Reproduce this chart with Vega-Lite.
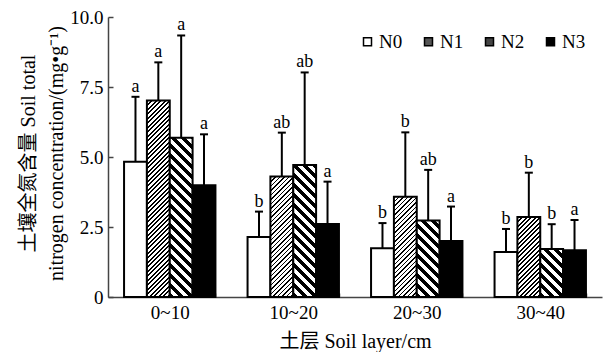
{
  "$schema": "https://vega.github.io/schema/vega-lite/v6.json",
  "width": 494,
  "height": 280,
  "autosize": {"type": "none"},
  "padding": {"left": 108, "top": 17, "right": 11, "bottom": 55},
  "background": "white",
  "config": {
    "view": {"stroke": null},
    "font": "Liberation Serif",
    "axis": {
      "labelFont": "Liberation Serif",
      "titleFont": "Liberation Serif, Noto Sans CJK SC",
      "labelColor": "black",
      "titleColor": "black",
      "titleFontWeight": "normal",
      "domainColor": "#444",
      "domainWidth": 1.5,
      "tickColor": "#444",
      "tickWidth": 1.5,
      "grid": false
    },
    "legend": {"labelFont": "Liberation Serif", "labelFontWeight": "normal"}
  },
  "params": [
    {"name": "hatchA", "value": [
      {"offset":0,"color":"#000"},{"offset":0.008,"color":"#000"},{"offset":0.008,"color":"#fff"},{"offset":0.02,"color":"#fff"},
      {"offset":0.02,"color":"#000"},{"offset":0.028,"color":"#000"},{"offset":0.028,"color":"#fff"},{"offset":0.04,"color":"#fff"},
      {"offset":0.04,"color":"#000"},{"offset":0.048,"color":"#000"},{"offset":0.048,"color":"#fff"},{"offset":0.06,"color":"#fff"},
      {"offset":0.06,"color":"#000"},{"offset":0.068,"color":"#000"},{"offset":0.068,"color":"#fff"},{"offset":0.08,"color":"#fff"},
      {"offset":0.08,"color":"#000"},{"offset":0.088,"color":"#000"},{"offset":0.088,"color":"#fff"},{"offset":0.1,"color":"#fff"},
      {"offset":0.1,"color":"#000"},{"offset":0.108,"color":"#000"},{"offset":0.108,"color":"#fff"},{"offset":0.12,"color":"#fff"},
      {"offset":0.12,"color":"#000"},{"offset":0.128,"color":"#000"},{"offset":0.128,"color":"#fff"},{"offset":0.14,"color":"#fff"},
      {"offset":0.14,"color":"#000"},{"offset":0.148,"color":"#000"},{"offset":0.148,"color":"#fff"},{"offset":0.16,"color":"#fff"},
      {"offset":0.16,"color":"#000"},{"offset":0.168,"color":"#000"},{"offset":0.168,"color":"#fff"},{"offset":0.18,"color":"#fff"},
      {"offset":0.18,"color":"#000"},{"offset":0.188,"color":"#000"},{"offset":0.188,"color":"#fff"},{"offset":0.2,"color":"#fff"},
      {"offset":0.2,"color":"#000"},{"offset":0.208,"color":"#000"},{"offset":0.208,"color":"#fff"},{"offset":0.22,"color":"#fff"},
      {"offset":0.22,"color":"#000"},{"offset":0.228,"color":"#000"},{"offset":0.228,"color":"#fff"},{"offset":0.24,"color":"#fff"},
      {"offset":0.24,"color":"#000"},{"offset":0.248,"color":"#000"},{"offset":0.248,"color":"#fff"},{"offset":0.26,"color":"#fff"},
      {"offset":0.26,"color":"#000"},{"offset":0.268,"color":"#000"},{"offset":0.268,"color":"#fff"},{"offset":0.28,"color":"#fff"},
      {"offset":0.28,"color":"#000"},{"offset":0.288,"color":"#000"},{"offset":0.288,"color":"#fff"},{"offset":0.3,"color":"#fff"},
      {"offset":0.3,"color":"#000"},{"offset":0.308,"color":"#000"},{"offset":0.308,"color":"#fff"},{"offset":0.32,"color":"#fff"},
      {"offset":0.32,"color":"#000"},{"offset":0.328,"color":"#000"},{"offset":0.328,"color":"#fff"},{"offset":0.34,"color":"#fff"},
      {"offset":0.34,"color":"#000"},{"offset":0.348,"color":"#000"},{"offset":0.348,"color":"#fff"},{"offset":0.36,"color":"#fff"},
      {"offset":0.36,"color":"#000"},{"offset":0.368,"color":"#000"},{"offset":0.368,"color":"#fff"},{"offset":0.38,"color":"#fff"},
      {"offset":0.38,"color":"#000"},{"offset":0.388,"color":"#000"},{"offset":0.388,"color":"#fff"},{"offset":0.4,"color":"#fff"},
      {"offset":0.4,"color":"#000"},{"offset":0.408,"color":"#000"},{"offset":0.408,"color":"#fff"},{"offset":0.42,"color":"#fff"},
      {"offset":0.42,"color":"#000"},{"offset":0.428,"color":"#000"},{"offset":0.428,"color":"#fff"},{"offset":0.44,"color":"#fff"},
      {"offset":0.44,"color":"#000"},{"offset":0.448,"color":"#000"},{"offset":0.448,"color":"#fff"},{"offset":0.46,"color":"#fff"},
      {"offset":0.46,"color":"#000"},{"offset":0.468,"color":"#000"},{"offset":0.468,"color":"#fff"},{"offset":0.48,"color":"#fff"},
      {"offset":0.48,"color":"#000"},{"offset":0.488,"color":"#000"},{"offset":0.488,"color":"#fff"},{"offset":0.5,"color":"#fff"},
      {"offset":0.5,"color":"#000"},{"offset":0.508,"color":"#000"},{"offset":0.508,"color":"#fff"},{"offset":0.52,"color":"#fff"},
      {"offset":0.52,"color":"#000"},{"offset":0.528,"color":"#000"},{"offset":0.528,"color":"#fff"},{"offset":0.54,"color":"#fff"},
      {"offset":0.54,"color":"#000"},{"offset":0.548,"color":"#000"},{"offset":0.548,"color":"#fff"},{"offset":0.56,"color":"#fff"},
      {"offset":0.56,"color":"#000"},{"offset":0.568,"color":"#000"},{"offset":0.568,"color":"#fff"},{"offset":0.58,"color":"#fff"},
      {"offset":0.58,"color":"#000"},{"offset":0.588,"color":"#000"},{"offset":0.588,"color":"#fff"},{"offset":0.6,"color":"#fff"},
      {"offset":0.6,"color":"#000"},{"offset":0.608,"color":"#000"},{"offset":0.608,"color":"#fff"},{"offset":0.62,"color":"#fff"},
      {"offset":0.62,"color":"#000"},{"offset":0.628,"color":"#000"},{"offset":0.628,"color":"#fff"},{"offset":0.64,"color":"#fff"},
      {"offset":0.64,"color":"#000"},{"offset":0.648,"color":"#000"},{"offset":0.648,"color":"#fff"},{"offset":0.66,"color":"#fff"},
      {"offset":0.66,"color":"#000"},{"offset":0.668,"color":"#000"},{"offset":0.668,"color":"#fff"},{"offset":0.68,"color":"#fff"},
      {"offset":0.68,"color":"#000"},{"offset":0.688,"color":"#000"},{"offset":0.688,"color":"#fff"},{"offset":0.7,"color":"#fff"},
      {"offset":0.7,"color":"#000"},{"offset":0.708,"color":"#000"},{"offset":0.708,"color":"#fff"},{"offset":0.72,"color":"#fff"},
      {"offset":0.72,"color":"#000"},{"offset":0.728,"color":"#000"},{"offset":0.728,"color":"#fff"},{"offset":0.74,"color":"#fff"},
      {"offset":0.74,"color":"#000"},{"offset":0.748,"color":"#000"},{"offset":0.748,"color":"#fff"},{"offset":0.76,"color":"#fff"},
      {"offset":0.76,"color":"#000"},{"offset":0.768,"color":"#000"},{"offset":0.768,"color":"#fff"},{"offset":0.78,"color":"#fff"},
      {"offset":0.78,"color":"#000"},{"offset":0.788,"color":"#000"},{"offset":0.788,"color":"#fff"},{"offset":0.8,"color":"#fff"},
      {"offset":0.8,"color":"#000"},{"offset":0.808,"color":"#000"},{"offset":0.808,"color":"#fff"},{"offset":0.82,"color":"#fff"},
      {"offset":0.82,"color":"#000"},{"offset":0.828,"color":"#000"},{"offset":0.828,"color":"#fff"},{"offset":0.84,"color":"#fff"},
      {"offset":0.84,"color":"#000"},{"offset":0.848,"color":"#000"},{"offset":0.848,"color":"#fff"},{"offset":0.86,"color":"#fff"},
      {"offset":0.86,"color":"#000"},{"offset":0.868,"color":"#000"},{"offset":0.868,"color":"#fff"},{"offset":0.88,"color":"#fff"},
      {"offset":0.88,"color":"#000"},{"offset":0.888,"color":"#000"},{"offset":0.888,"color":"#fff"},{"offset":0.9,"color":"#fff"},
      {"offset":0.9,"color":"#000"},{"offset":0.908,"color":"#000"},{"offset":0.908,"color":"#fff"},{"offset":0.92,"color":"#fff"},
      {"offset":0.92,"color":"#000"},{"offset":0.928,"color":"#000"},{"offset":0.928,"color":"#fff"},{"offset":0.94,"color":"#fff"},
      {"offset":0.94,"color":"#000"},{"offset":0.948,"color":"#000"},{"offset":0.948,"color":"#fff"},{"offset":0.96,"color":"#fff"},
      {"offset":0.96,"color":"#000"},{"offset":0.968,"color":"#000"},{"offset":0.968,"color":"#fff"},{"offset":0.98,"color":"#fff"},
      {"offset":0.98,"color":"#000"},{"offset":0.988,"color":"#000"},{"offset":0.988,"color":"#fff"},{"offset":1,"color":"#fff"}
    ]},
    {"name": "hatchB", "value": [
      {"offset":0,"color":"#000"},{"offset":0.02,"color":"#000"},{"offset":0.02,"color":"#fff"},{"offset":0.04,"color":"#fff"},
      {"offset":0.04,"color":"#000"},{"offset":0.06,"color":"#000"},{"offset":0.06,"color":"#fff"},{"offset":0.08,"color":"#fff"},
      {"offset":0.08,"color":"#000"},{"offset":0.1,"color":"#000"},{"offset":0.1,"color":"#fff"},{"offset":0.12,"color":"#fff"},
      {"offset":0.12,"color":"#000"},{"offset":0.14,"color":"#000"},{"offset":0.14,"color":"#fff"},{"offset":0.16,"color":"#fff"},
      {"offset":0.16,"color":"#000"},{"offset":0.18,"color":"#000"},{"offset":0.18,"color":"#fff"},{"offset":0.2,"color":"#fff"},
      {"offset":0.2,"color":"#000"},{"offset":0.22,"color":"#000"},{"offset":0.22,"color":"#fff"},{"offset":0.24,"color":"#fff"},
      {"offset":0.24,"color":"#000"},{"offset":0.26,"color":"#000"},{"offset":0.26,"color":"#fff"},{"offset":0.28,"color":"#fff"},
      {"offset":0.28,"color":"#000"},{"offset":0.3,"color":"#000"},{"offset":0.3,"color":"#fff"},{"offset":0.32,"color":"#fff"},
      {"offset":0.32,"color":"#000"},{"offset":0.34,"color":"#000"},{"offset":0.34,"color":"#fff"},{"offset":0.36,"color":"#fff"},
      {"offset":0.36,"color":"#000"},{"offset":0.38,"color":"#000"},{"offset":0.38,"color":"#fff"},{"offset":0.4,"color":"#fff"},
      {"offset":0.4,"color":"#000"},{"offset":0.42,"color":"#000"},{"offset":0.42,"color":"#fff"},{"offset":0.44,"color":"#fff"},
      {"offset":0.44,"color":"#000"},{"offset":0.46,"color":"#000"},{"offset":0.46,"color":"#fff"},{"offset":0.48,"color":"#fff"},
      {"offset":0.48,"color":"#000"},{"offset":0.5,"color":"#000"},{"offset":0.5,"color":"#fff"},{"offset":0.52,"color":"#fff"},
      {"offset":0.52,"color":"#000"},{"offset":0.54,"color":"#000"},{"offset":0.54,"color":"#fff"},{"offset":0.56,"color":"#fff"},
      {"offset":0.56,"color":"#000"},{"offset":0.58,"color":"#000"},{"offset":0.58,"color":"#fff"},{"offset":0.6,"color":"#fff"},
      {"offset":0.6,"color":"#000"},{"offset":0.62,"color":"#000"},{"offset":0.62,"color":"#fff"},{"offset":0.64,"color":"#fff"},
      {"offset":0.64,"color":"#000"},{"offset":0.66,"color":"#000"},{"offset":0.66,"color":"#fff"},{"offset":0.68,"color":"#fff"},
      {"offset":0.68,"color":"#000"},{"offset":0.7,"color":"#000"},{"offset":0.7,"color":"#fff"},{"offset":0.72,"color":"#fff"},
      {"offset":0.72,"color":"#000"},{"offset":0.74,"color":"#000"},{"offset":0.74,"color":"#fff"},{"offset":0.76,"color":"#fff"},
      {"offset":0.76,"color":"#000"},{"offset":0.78,"color":"#000"},{"offset":0.78,"color":"#fff"},{"offset":0.8,"color":"#fff"},
      {"offset":0.8,"color":"#000"},{"offset":0.82,"color":"#000"},{"offset":0.82,"color":"#fff"},{"offset":0.84,"color":"#fff"},
      {"offset":0.84,"color":"#000"},{"offset":0.86,"color":"#000"},{"offset":0.86,"color":"#fff"},{"offset":0.88,"color":"#fff"},
      {"offset":0.88,"color":"#000"},{"offset":0.9,"color":"#000"},{"offset":0.9,"color":"#fff"},{"offset":0.92,"color":"#fff"},
      {"offset":0.92,"color":"#000"},{"offset":0.94,"color":"#000"},{"offset":0.94,"color":"#fff"},{"offset":0.96,"color":"#fff"},
      {"offset":0.96,"color":"#000"},{"offset":0.98,"color":"#000"},{"offset":0.98,"color":"#fff"},{"offset":1,"color":"#fff"}
    ]}
  ],
  "data": {
    "values": [
      {"depth": "0~10", "trt": "N0", "value": 4.83, "upper": 7.15, "sig": "a"},
      {"depth": "0~10", "trt": "N1", "value": 7.02, "upper": 8.38, "sig": "a"},
      {"depth": "0~10", "trt": "N2", "value": 5.69, "upper": 9.34, "sig": "a"},
      {"depth": "0~10", "trt": "N3", "value": 3.99, "upper": 5.81, "sig": "a"},
      {"depth": "10~20", "trt": "N0", "value": 2.14, "upper": 3.05, "sig": "b"},
      {"depth": "10~20", "trt": "N1", "value": 4.30, "upper": 5.87, "sig": "ab"},
      {"depth": "10~20", "trt": "N2", "value": 4.71, "upper": 8.02, "sig": "ab"},
      {"depth": "10~20", "trt": "N3", "value": 2.61, "upper": 4.12, "sig": "a"},
      {"depth": "20~30", "trt": "N0", "value": 1.74, "upper": 2.64, "sig": "b"},
      {"depth": "20~30", "trt": "N1", "value": 3.58, "upper": 5.88, "sig": "b"},
      {"depth": "20~30", "trt": "N2", "value": 2.73, "upper": 4.54, "sig": "ab"},
      {"depth": "20~30", "trt": "N3", "value": 2.00, "upper": 3.23, "sig": "a"},
      {"depth": "30~40", "trt": "N0", "value": 1.61, "upper": 2.43, "sig": "b"},
      {"depth": "30~40", "trt": "N1", "value": 2.86, "upper": 4.44, "sig": "b"},
      {"depth": "30~40", "trt": "N2", "value": 1.71, "upper": 2.60, "sig": "b"},
      {"depth": "30~40", "trt": "N3", "value": 1.67, "upper": 2.75, "sig": "a"}
    ]
  },
  "encoding": {
    "x": {
      "field": "depth", "type": "nominal",
      "sort": ["0~10", "10~20", "20~30", "30~40"],
      "scale": {"paddingInner": 0.26, "paddingOuter": 0.13},
      "title": "土层 Soil layer/cm",
      "axis": {
        "labelAngle": 0, "tickBand": "extent", "tickSize": -4,
        "labelPadding": 10, "labelFontSize": 19,
        "titleFontSize": 20, "titlePadding": 9
      }
    },
    "xOffset": {
      "field": "trt", "type": "nominal",
      "sort": ["N0", "N1", "N2", "N3"],
      "scale": {"paddingInner": 0, "paddingOuter": 0}
    }
  },
  "layer": [
    {
      "mark": {"type": "bar", "stroke": "black", "strokeWidth": 2},
      "encoding": {
        "y": {
          "field": "value", "type": "quantitative",
          "scale": {"domain": [0, 10], "nice": false},
          "title": ["土壤全氮含量 Soil total", "nitrogen concentration/(mg•g⁻¹)"],
          "axis": {
            "values": [0, 2.5, 5, 7.5, 10],
            "labelExpr": "datum.value === 0 ? '0' : format(datum.value, '.1f')",
            "tickSize": -5, "labelPadding": 10, "labelFontSize": 19,
            "titleFontSize": 20, "titleLineHeight": 28,
            "titleAngle": -90, "titleX": -80, "titleY": 136,
            "titleAlign": "center", "titleBaseline": "middle"
          }
        },
        "fill": {
          "field": "trt", "type": "nominal",
          "sort": ["N0", "N1", "N2", "N3"],
          "scale": {"domain": ["N0", "N1", "N2", "N3"], "range": ["#ffffff", "#555555", "#444444", "#000000"]},
          "legend": {
            "orient": "none", "legendX": 250, "legendY": 15,
            "direction": "horizontal", "title": null,
            "symbolType": "square", "symbolSize": 64,
            "symbolStrokeColor": "black", "symbolStrokeWidth": 1.5,
            "labelFont": "Liberation Serif", "labelFontSize": 19, "labelColor": "black",
            "labelOffset": 2, "columnPadding": 16, "padding": 0
          },
          "condition": [
            {"test": "datum.trt === 'N1'", "value": {"expr": "{gradient:'linear', x1:0, y1:0, x2: 225*bandwidth('xOffset')/(pow(bandwidth('xOffset'),2)+pow(scale('y',0)-scale('y',datum.value),2)), y2: 225*(scale('y',0)-scale('y',datum.value))/(pow(bandwidth('xOffset'),2)+pow(scale('y',0)-scale('y',datum.value),2)), stops: hatchA}"}},
            {"test": "datum.trt === 'N2'", "value": {"expr": "{gradient:'linear', x1:0, y1:1, x2: 250*bandwidth('xOffset')/(pow(bandwidth('xOffset'),2)+pow(scale('y',0)-scale('y',datum.value),2)), y2: 1-250*(scale('y',0)-scale('y',datum.value))/(pow(bandwidth('xOffset'),2)+pow(scale('y',0)-scale('y',datum.value),2)), stops: hatchB}"}}
          ]
        }
      }
    },
    {
      "mark": {"type": "rule", "strokeWidth": 2, "color": "black"},
      "encoding": {
        "y": {"field": "value", "type": "quantitative"},
        "y2": {"field": "upper"}
      }
    },
    {
      "mark": {"type": "tick", "orient": "horizontal", "size": 8, "thickness": 2, "color": "black", "opacity": 1},
      "encoding": {
        "y": {"field": "upper", "type": "quantitative"}
      }
    },
    {
      "mark": {"type": "text", "dy": -5, "baseline": "alphabetic", "align": "center", "fontSize": 18, "font": "Liberation Serif", "color": "black"},
      "encoding": {
        "y": {"field": "upper", "type": "quantitative"},
        "text": {"field": "sig"}
      }
    }
  ]
}
